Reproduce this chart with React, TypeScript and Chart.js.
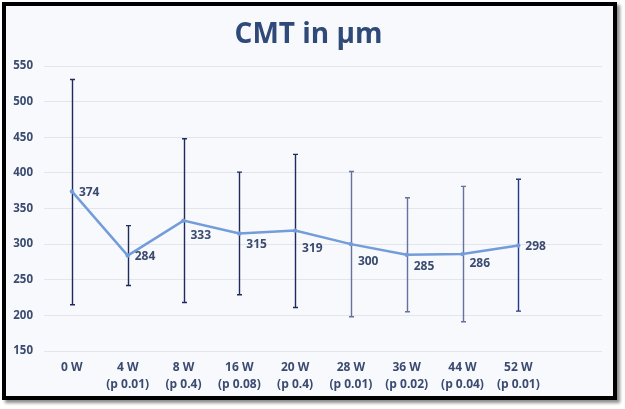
import React, { useEffect, useRef } from "react";
import { Chart, registerables } from "chart.js";

Chart.register(...registerables);

// ---- data ----
const weeks = ["0 W", "4 W", "8 W", "16 W", "20 W", "28 W", "36 W", "44 W", "52 W"];
const pValues = ["", "(p 0.01)", "(p 0.4)", "(p 0.08)", "(p 0.4)", "(p 0.01)", "(p 0.02)", "(p 0.04)", "(p 0.01)"];
const meanCMT = [374, 284, 333, 315, 319, 300, 285, 286, 298];
const errLow = [215, 242, 218, 229, 211, 198, 205, 191, 206];
const errHigh = [531, 326, 448, 401, 426, 402, 365, 381, 391];
const yTicks = [150, 200, 250, 300, 350, 400, 450, 500, 550];

// ---- styles ----
const FONT = "'Open Sans', 'Noto Sans', sans-serif";
const TEXT = "#3b4b70";
const TITLE_COLOR = "#2f4a78";
const LINE_COLOR = "#729cda";
const errColors = ["#1f2b5c", "#1f2b5c", "#1f2b5c", "#1f2b5c", "#1f2b5c", "#66719f", "#66719f", "#66719f", "#25388a"];
const labelDy = [1, 1, 15, 11, 18, 17, 12, 9, 1];

export default function App() {
  const canvasRef = useRef<HTMLCanvasElement | null>(null);

  useEffect(() => {
    const canvas = canvasRef.current;
    if (!canvas) return;

    const labels: (string | string[])[] = weeks.map((w, i) => (pValues[i] ? [w, pValues[i]] : [w]));
    labels.push("");
    const data: (number | null)[] = [...meanCMT, null];

    const errorBars = {
      id: "errorBars",
      beforeDatasetsDraw(chart: any) {
        const ctx = chart.ctx;
        const meta = chart.getDatasetMeta(0);
        const y = chart.scales.y;
        ctx.save();
        ctx.lineWidth = 1.4;
        meta.data.forEach((pt: any, i: number) => {
          if (i >= meanCMT.length) return;
          const x = Math.round(pt.x) + 0.5;
          const yl = y.getPixelForValue(errLow[i]);
          const yh = y.getPixelForValue(errHigh[i]);
          ctx.strokeStyle = errColors[i];
          ctx.beginPath();
          ctx.moveTo(x, yl);
          ctx.lineTo(x, yh);
          ctx.moveTo(x - 2.5, yl);
          ctx.lineTo(x + 2.5, yl);
          ctx.moveTo(x - 2.5, yh);
          ctx.lineTo(x + 2.5, yh);
          ctx.stroke();
        });
        ctx.restore();
      },
    };

    const dataLabels = {
      id: "dataLabels",
      afterDatasetsDraw(chart: any) {
        const ctx = chart.ctx;
        const meta = chart.getDatasetMeta(0);
        ctx.save();
        ctx.font = `bold 12px ${FONT}`;
        ctx.fillStyle = TEXT;
        ctx.textAlign = "left";
        ctx.textBaseline = "middle";
        meta.data.forEach((pt: any, i: number) => {
          if (i >= meanCMT.length) return;
          ctx.fillText(String(meanCMT[i]), pt.x + 7, pt.y + labelDy[i]);
        });
        ctx.restore();
      },
    };

    const titlePlugin = {
      id: "customTitle",
      afterDraw(chart: any) {
        const ctx = chart.ctx;
        ctx.save();
        ctx.font = `bold 28px ${FONT}`;
        ctx.fillStyle = TITLE_COLOR;
        ctx.textAlign = "center";
        ctx.textBaseline = "alphabetic";
        ctx.fillText("CMT in µm", 308.5, 43);
        ctx.restore();
      },
    };

    const chart = new Chart(canvas, {
      type: "line",
      data: {
        labels,
        datasets: [
          {
            data,
            borderColor: LINE_COLOR,
            backgroundColor: LINE_COLOR,
            borderWidth: 2.5,
            pointRadius: 2.2,
            pointBorderWidth: 0,
            pointHoverRadius: 2.2,
            tension: 0,
            fill: false,
          },
        ],
      },
      options: {
        animation: false,
        responsive: false,
        events: [],
        layout: { padding: { top: 66, right: 23, left: 0, bottom: 0 } },
        plugins: {
          legend: { display: false },
          title: { display: false },
          tooltip: { enabled: false },
        },
        scales: {
          x: {
            type: "category",
            offset: true,
            grid: { display: false, drawTicks: false },
            border: { display: false },
            ticks: {
              font: { family: FONT, size: 12, weight: "bold", lineHeight: 1.4 },
              color: TEXT,
              padding: 8.5,
              maxRotation: 0,
              autoSkip: false,
            },
            afterFit(scale: any) {
              scale.height = 58;
            },
          },
          y: {
            min: 150,
            max: 550,
            afterBuildTicks(scale: any) {
              scale.ticks = yTicks.map((v) => ({ value: v }));
            },
            grid: { color: "#e2e5ec", lineWidth: 1, drawTicks: false },
            border: { display: false },
            ticks: {
              font: { family: FONT, size: 11.5, weight: "bold" },
              color: TEXT,
              padding: 11,
            },
            afterFit(scale: any) {
              scale.width = 44;
            },
          },
        },
      },
      plugins: [errorBars, dataLabels, titlePlugin],
    });

    return () => chart.destroy();
  }, []);

  return (
    <div
      style={{
        position: "absolute",
        left: 0,
        top: 0,
        width: 625,
        height: 409,
        background: "#ffffff",
        overflow: "hidden",
      }}
    >
      <div
        style={{
          position: "absolute",
          left: 2,
          top: 2,
          width: 615,
          height: 398,
          boxSizing: "border-box",
          border: "4px solid #000000",
          background: "#f7f9fd",
          boxShadow: "3px 3px 3px rgba(0,0,0,0.45)",
        }}
      />
      <canvas
        ref={canvasRef}
        width={625}
        height={409}
        style={{ position: "absolute", left: 0, top: 0, width: 625, height: 409 }}
      />
    </div>
  );
}
